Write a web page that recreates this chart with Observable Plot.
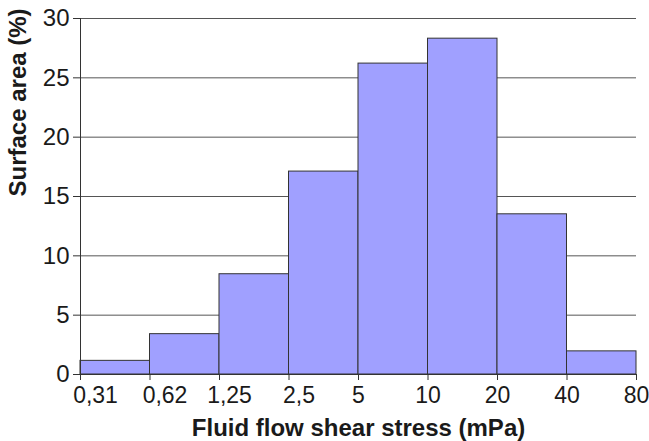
<!DOCTYPE html>
<html>
<head>
<meta charset="utf-8">
<script src="https://cdn.jsdelivr.net/npm/d3@7"></script>
<script src="https://cdn.jsdelivr.net/npm/@observablehq/plot@0.6"></script>
<style>
  html, body { margin: 0; padding: 0; background: white; }
</style>
</head>
<body>
<div id="chart"></div>
<script>
const edgeLabels = ["0,31", "0,62", "1,25", "2,5", "5", "10", "20", "40", "80"];
const surfaceArea = [1.15, 3.4, 8.45, 17.1, 26.2, 28.3, 13.5, 1.95];
const yTicks = [0, 5, 10, 15, 20, 25, 30];
const gridTicks = [5, 10, 15, 20, 25, 30];
const xTitle = "Fluid flow shear stress (mPa)";
const yTitle = "Surface area (%)";

const bars = surfaceArea.map((v, i) => ({i, v}));
const edges = edgeLabels.map((label, i) => ({i, label}));

// label offset groups (as in the reference, decimal labels sit right of their tick)
const labelStyle = {y: 0, frameAnchor: null, lineAnchor: "top", dy: 12, fontSize: 23, fill: "#1a1a1a"};

const chart = Plot.plot({
  width: 649,
  height: 441,
  marginLeft: 80,
  marginRight: 13,
  marginTop: 18,
  marginBottom: 67,
  x: {domain: [0, 8]},
  y: {domain: [0, 30]},
  style: {fontFamily: "'Liberation Sans', Arial, sans-serif", fontSize: "23px", color: "#1a1a1a", background: "white"},
  marks: [
    Plot.ruleY(gridTicks, {stroke: "#555", strokeWidth: 1}),
    Plot.rect(bars, {x1: "i", x2: d => d.i + 1, y1: 0, y2: "v", fill: "#a0a0ff", stroke: "#333", strokeWidth: 1}),
    Plot.ruleX([0], {stroke: "#333"}),
    Plot.ruleY([0], {stroke: "#333"}),
    Plot.axisY(yTicks, {tickSize: 7, tickPadding: 4, fontSize: 24, label: null, tickFormat: d => d, stroke: "#333"}),
    Plot.axisX(edges.map(d => d.i), {tickSize: 6, label: null, tickFormat: () => "", stroke: "#333"}),
    Plot.text(edges.filter(d => d.i < 2), {x: "i", text: "label", dx: 15, ...labelStyle}),
    Plot.text(edges.filter(d => d.i >= 2 && d.i < 4), {x: "i", text: "label", dx: 10, ...labelStyle}),
    Plot.text(edges.filter(d => d.i >= 4), {x: "i", text: "label", ...labelStyle}),
    Plot.text([yTitle], {frameAnchor: "left", rotate: -90, dx: -62, fontWeight: "bold", fontSize: 24, lineAnchor: "middle", fill: "#1a1a1a"}),
    Plot.text([xTitle], {frameAnchor: "bottom", dy: 54, fontWeight: "bold", fontSize: 24, lineAnchor: "middle", fill: "#1a1a1a"})
  ]
});
document.getElementById("chart").appendChild(chart);
</script>
</body>
</html>
